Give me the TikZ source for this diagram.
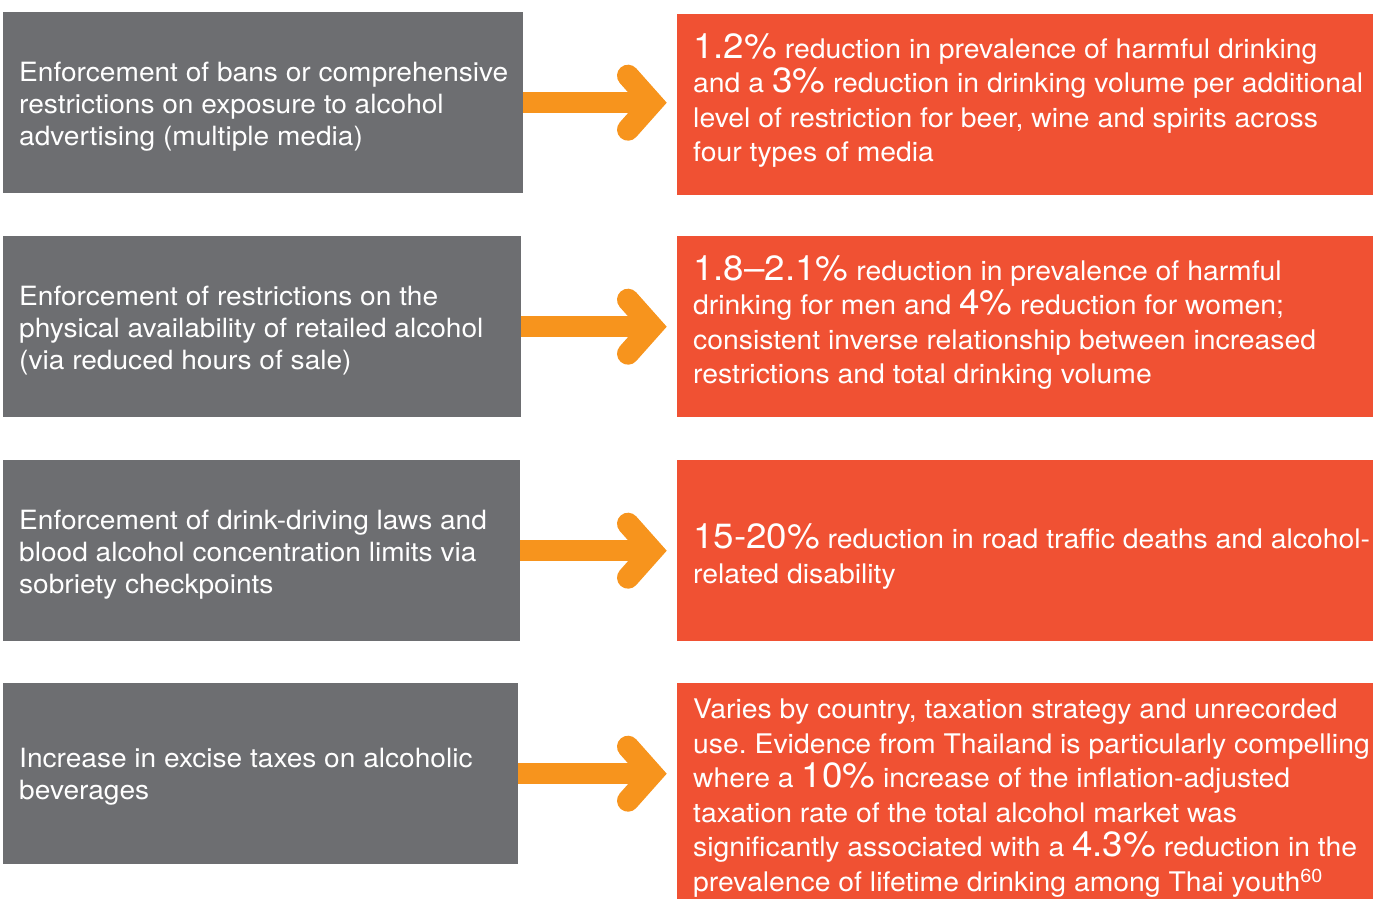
\documentclass[tikz,border=0pt]{standalone}
\usepackage{fontspec}
\setmainfont{TeX Gyre Heros}
\newfontfamily\causefamily[FakeStretch=1.06,Ligatures=TeX]{TeX Gyre Heros}
\newfontfamily\effectfamily[FakeStretch=1.05,Ligatures=TeX]{TeX Gyre Heros}
\usepackage{tikz}
\usetikzlibrary{calc,positioning}
\definecolor{causegray}{HTML}{6D6E71}
\definecolor{effectred}{HTML}{F05133}
\definecolor{arroworange}{HTML}{F7941D}
\newcommand\bignum[1]{{\fontsize{35}{34.5}\selectfont #1}}
\frenchspacing
\tikzset{%
    cause/.style={fill=causegray, draw=none, inner sep=0, minimum height=181, anchor=north west},
    effect/.style={fill=effectred, draw=none, inner sep=0, minimum width=696, anchor=north west},
    causetext/.style={text=white, inner sep=0, anchor=west, align=left,
        font=\causefamily\fontsize{26.5}{32}\selectfont},
    effecttext/.style={text=white, inner sep=0, anchor=west, align=left,
        font=\effectfamily\fontsize{27}{34.5}\selectfont},
    shaft/.style={draw=arroworange, line width=21},
    chevron/.style={draw=arroworange, line width=22, line cap=round, line join=miter}
}

\begin{document}
\begin{tikzpicture}[x=1pt,y=-1pt]
\useasboundingbox (0,0) rectangle (1373,899);
% left column
\node[cause, minimum width=520] (c1) at (3,12) {};
\node[cause, minimum width=518] (c2) at (3,236) {};
\node[cause, minimum width=517] (c3) at (3,460) {};
\node[cause, minimum width=515] (c4) at (3,683) {};
% right column
\node[effect, minimum height=181] (e1) at (677,14) {};
\node[effect, minimum height=181] (e2) at (677,236) {};
\node[effect, minimum height=181] (e3) at (677,460) {};
\node[effect, minimum height=216] (e4) at (677,683) {};
% texts
\node[causetext] (c1t) at ([xshift=16,yshift=-3.5]c1.west) {Enforcement of bans or comprehensive\\restrictions on exposure to alcohol\\advertising (multiple media)};
\node[causetext] (c2t) at ([xshift=16,yshift=-3.5]c2.west) {Enforcement of restrictions on the\\physical availability of retailed alcohol\\(via reduced hours of sale)};
\node[causetext] (c3t) at ([xshift=16,yshift=-3.5]c3.west) {Enforcement of drink-driving laws and\\blood alcohol concentration limits via\\sobriety checkpoints};
\node[causetext] (c4t) at ([xshift=16,yshift=-3.5]c4.west) {Increase in excise taxes on alcoholic\\beverages};
\node[effecttext] (e1t) at ([xshift=16,yshift=4]e1.west) {\bignum{1.2\%} reduction in prevalence of harmful drinking\\and a \bignum{3\%} reduction in drinking volume per additional\\level of restriction for beer, wine and spirits across\\four types of media};
\node[effecttext] (e2t) at ([xshift=16,yshift=4]e2.west) {\bignum{1.8--2.1\%} reduction in prevalence of harmful\\drinking for men and \bignum{4\%} reduction for women;\\consistent inverse relationship between increased\\restrictions and total drinking volume};
\node[effecttext] (e3t) at ([xshift=16,yshift=-6]e3.west) {\bignum{15-20\%} reduction in road traffic deaths and alcohol-\\related disability};
\node[effecttext] (e4t) at ([xshift=16,yshift=-7]e4.west) {Varies by country, taxation strategy and unrecorded\\use. Evidence from Thailand is particularly compelling\\where a \bignum{10\%} increase of the inflation-adjusted\\taxation rate of the total alcohol market was\\significantly associated with a \bignum{4.3\%} reduction in the\\prevalence of lifetime drinking among Thai youth\textsuperscript{60}};
% arrows
\foreach \i in {1,...,4}{
  \coordinate (t\i) at ($(e\i.west |- c\i.east)+(-25,0)$);
  \draw[shaft] (c\i.east) -- (t\i);
  \draw[chevron] ($(t\i)+(-24,-27)$) -- (t\i) -- ($(t\i)+(-24,27)$);
}
\end{tikzpicture}
\end{document}
